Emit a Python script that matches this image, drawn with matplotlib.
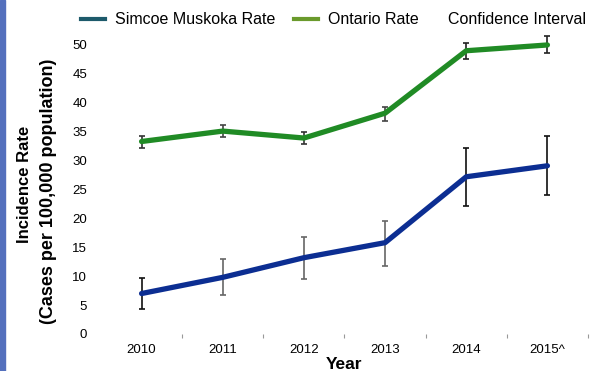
import matplotlib
matplotlib.use("Agg")
import matplotlib.pyplot as plt
from matplotlib.lines import Line2D
from matplotlib.patches import Rectangle

plt.rcParams['font.family'] = ['Liberation Sans', 'DejaVu Sans']

years = ['2010', '2011', '2012', '2013', '2014', '2015^']

# incidence rates per 100,000 with 95% confidence limits
simcoe_rate = [7.0, 9.8, 13.2, 15.8, 27.2, 29.1]
simcoe_low = [4.4, 6.7, 9.6, 11.7, 22.2, 24.1]
simcoe_high = [9.7, 12.9, 16.7, 19.5, 32.2, 34.3]

ontario_rate = [33.3, 35.1, 33.9, 38.2, 49.0, 50.0]
ontario_low = [32.2, 34.1, 32.9, 36.9, 47.6, 48.6]
ontario_high = [34.3, 36.1, 34.9, 39.2, 50.3, 51.5]

simcoe_col = '#0c2e92'
ontario_col = '#208b25'

fig = plt.figure(figsize=(5.9, 3.71), dpi=100)
ax = fig.add_axes([101 / 590, 1 - 334 / 371, 487 / 590, 300.6 / 371])

x = list(range(len(years)))

# error bars first so the lines sit on top
bar_cols_s = ['#111111', '#666666', '#666666', '#666666', '#111111', '#111111']
bar_cols_o = ['#333333', '#444444', '#333333', '#444444', '#222222', '#222222']
for i in x:
    ax.errorbar(i, simcoe_rate[i],
                yerr=[[simcoe_rate[i] - simcoe_low[i]], [simcoe_high[i] - simcoe_rate[i]]],
                fmt='none', ecolor=bar_cols_s[i], elinewidth=1.2, capsize=2.5, capthick=1.2, zorder=2)
    ax.errorbar(i, ontario_rate[i],
                yerr=[[ontario_rate[i] - ontario_low[i]], [ontario_high[i] - ontario_rate[i]]],
                fmt='none', ecolor=bar_cols_o[i], elinewidth=1.2, capsize=2.5, capthick=1.2, zorder=2)

ax.plot(x, simcoe_rate, color=simcoe_col, lw=3.8, solid_capstyle='round', zorder=3)
ax.plot(x, ontario_rate, color=ontario_col, lw=3.8, solid_capstyle='round', zorder=3)

ax.set_xlim(-0.5, len(years) - 0.5)
ax.set_ylim(0, 52)
ax.set_yticks(range(0, 51, 5))
ax.set_xticks(x)
ax.set_xticklabels(years)
ax.set_xticks([i + 0.5 for i in x], minor=True)
ax.tick_params(axis='y', length=0, pad=10, labelsize=9.5)
ax.tick_params(axis='x', which='major', length=0, pad=7, labelsize=9.5)
ax.tick_params(axis='x', which='minor', length=3, width=0.8, color='#999999')
for s in ax.spines.values():
    s.set_visible(False)

ax.set_xlabel('Year', fontsize=12.5, fontweight='bold', labelpad=1)

fig.text(25 / 590, 1 - 184 / 371, 'Incidence Rate', rotation=90, fontsize=12,
         fontweight='bold', ha='center', va='center')
fig.text(49 / 590, 1 - 191 / 371, '(Cases per 100,000 population)', rotation=90, fontsize=13,
         fontweight='bold', ha='center', va='center')

handles = [Line2D([], [], color='#1d5a6b', lw=3),
           Line2D([], [], color='#6a9a2c', lw=3)]
fig.legend(handles, ['Simcoe Muskoka Rate', 'Ontario Rate'], loc='center left',
           bbox_to_anchor=(81 / 590, 1 - 20 / 371), bbox_transform=fig.transFigure,
           ncol=2, frameon=False, fontsize=11.5, handlelength=1.5, handletextpad=0.6,
           columnspacing=1.2, borderpad=0, borderaxespad=0)
fig.text(448 / 590, 1 - 20 / 371, 'Confidence Interval', fontsize=11.5, ha='left', va='center')

# coloured strip down the left edge
fig.patches.append(Rectangle((0, 0), 5 / 590, 1, transform=fig.transFigure,
                             color='#5470bd', zorder=0))

fig.savefig('out.png', dpi=100)
